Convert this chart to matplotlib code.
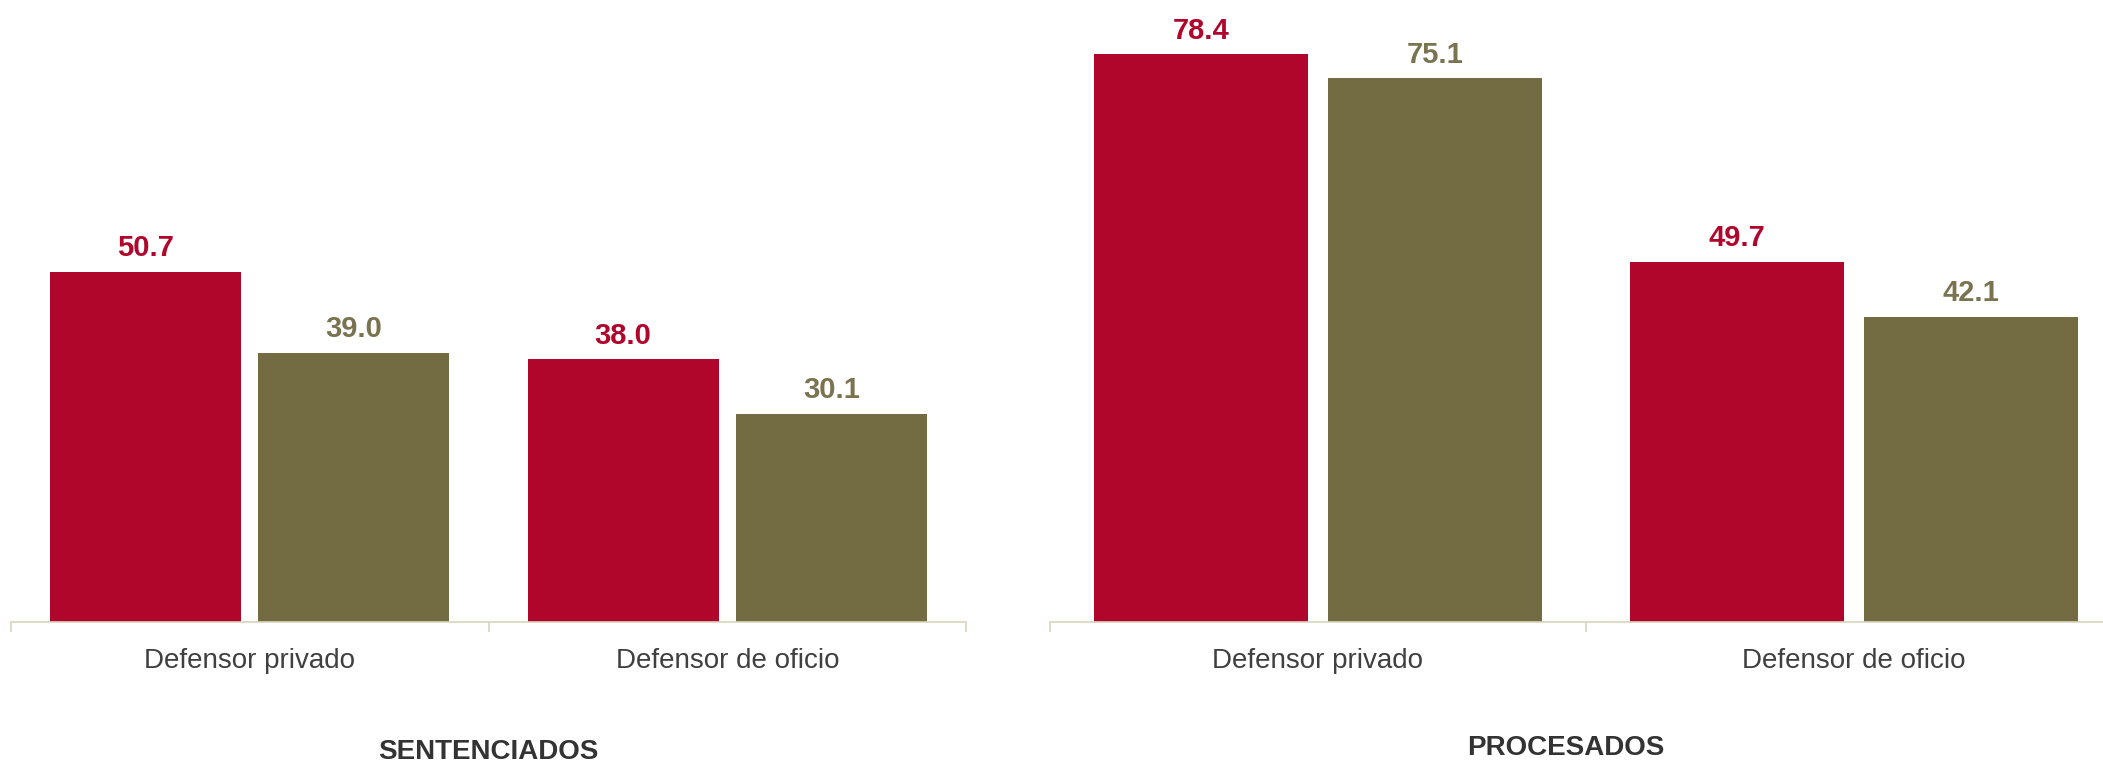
import matplotlib.pyplot as plt
import numpy as np

categorias = ["Defensor privado", "Defensor de oficio"]
sent_serie1 = [50.7, 38.0]
sent_serie2 = [39.0, 30.1]
proc_serie1 = [78.4, 49.7]
proc_serie2 = [75.1, 42.1]

ROJO = "#B0062C"
OLIVO = "#736B42"
OLIVO_TXT = "#7A7350"
EJE = "#D8D5BD"

W, H = 2103, 768
fig = plt.figure(figsize=(W / 100, H / 100), dpi=100)


def panel(rect_px, v1, v2, ymax):
    x0, x1, base = rect_px
    ax = fig.add_axes([x0 / W, (H - base) / H, (x1 - x0) / W, base / H])
    x = np.arange(len(categorias))
    ax.bar(x - 0.218, v1, width=0.4, color=ROJO)
    ax.bar(x + 0.218, v2, width=0.4, color=OLIVO)
    for xi, v in zip(x, v1):
        ax.annotate(f"{v:.1f}", (xi - 0.218, v), xytext=(0, 7), textcoords="offset points",
                    ha="center", va="bottom", fontsize=21, fontweight="bold",
                    color=ROJO, family="Liberation Sans")
    for xi, v in zip(x, v2):
        ax.annotate(f"{v:.1f}", (xi + 0.218, v), xytext=(0, 7), textcoords="offset points",
                    ha="center", va="bottom", fontsize=21, fontweight="bold",
                    color=OLIVO_TXT, family="Liberation Sans")
    ax.set_xlim(-0.5, len(categorias) - 0.5)
    ax.set_ylim(0, ymax)
    ax.set_yticks([])
    ax.set_xticks(np.arange(len(categorias) + 1) - 0.5)
    ax.set_xticklabels([])
    ax.set_xticks(x, minor=True)
    ax.set_xticklabels(categorias, minor=True, fontsize=20, color="#404040",
                       family="Liberation Sans")
    ax.tick_params(axis="x", which="major", length=7, width=1.2, color=EJE, direction="out")
    ax.tick_params(axis="x", which="minor", length=0, pad=19)
    for s in ["top", "right", "left"]:
        ax.spines[s].set_visible(False)
    ax.spines["bottom"].set_color(EJE)
    ax.spines["bottom"].set_linewidth(1.2)
    return ax


panel((11, 966, 622), sent_serie1, sent_serie2, 622 / 6.91)
panel((1050, 2122, 622), proc_serie1, proc_serie2, 622 / 7.24)

titulo = dict(fontsize=20, fontweight="bold", color="#333333",
              family="Liberation Sans", ha="center", va="center")
fig.text(488 / W, 1 - 752 / H, "SENTENCIADOS", **titulo)
fig.text(1566 / W, 1 - 748 / H, "PROCESADOS", **titulo)

fig.savefig("out.png", dpi=100, facecolor="white")
